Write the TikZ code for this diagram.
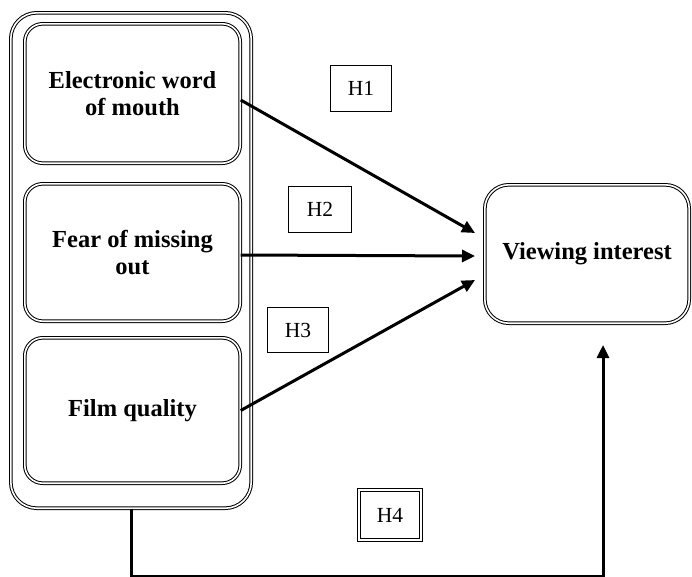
\documentclass[tikz,border=0pt]{standalone}
\usepackage{fontspec}
\setmainfont{Liberation Serif}
\usetikzlibrary{arrows.meta}

\begin{document}
\begin{tikzpicture}[x=1pt,y=-1pt,
  dbox/.style={draw,double,line width=1pt,double distance=1.6pt,rounded corners=18pt,inner sep=0pt,align=center,font=\fontsize{24.5}{27.5}\selectfont\bfseries},
  hbox/.style={draw,line width=1.2pt,inner sep=0pt,font=\fontsize{21.5}{24}\selectfont},
  link/.style={line width=3pt,-{Triangle[length=13pt,width=12pt]}}]
\useasboundingbox (0,0) rectangle (692,576);
\node [dbox,rounded corners=26pt,minimum width=240.4pt,minimum height=495.4pt] (group) at (131,260.5) {};
\node [dbox,minimum width=215.4pt,minimum height=139.4pt] (ewom) at (132.5,93.5) {Electronic word\\of mouth};
\node [dbox,minimum width=215.4pt,minimum height=137.4pt] (fomo) at (132.5,252.5) {Fear of missing\\out};
\node [dbox,minimum width=215.4pt,minimum height=145.4pt] (film) at (132.5,410.5) {Film quality};
\node [dbox,rounded corners=24pt,minimum width=204.4pt,minimum height=138.4pt] (interest) at (587,254) {Viewing interest};
\node [hbox,minimum width=60.8pt,minimum height=45.8pt] (h1) at (361,88.5) {H1};
\node [hbox,minimum width=62.8pt,minimum height=45.8pt] (h2) at (320,209.5) {H2};
\node [hbox,minimum width=60.8pt,minimum height=44.8pt] (h3) at (298,330) {H3};
\node [hbox,double,line width=0.9pt,double distance=2pt,minimum width=62.2pt,minimum height=50.2pt] (h4) at (390,515) {H4};
\coordinate (in1) at (475,233);
\coordinate (in2) at (475,256);
\coordinate (in3) at (475,280);
\coordinate (h4turn) at (603,576.5);
\coordinate (h4end) at (603,345);
\draw [link] ([yshift=-6.5pt]ewom.east) -- (in1);
\draw [link] ([yshift=-2.5pt]fomo.east) -- (in2);
\draw [link] (film.east) -- (in3);
\draw [link] (group.south) |- (h4turn) -- (h4end);
\end{tikzpicture}
\end{document}
